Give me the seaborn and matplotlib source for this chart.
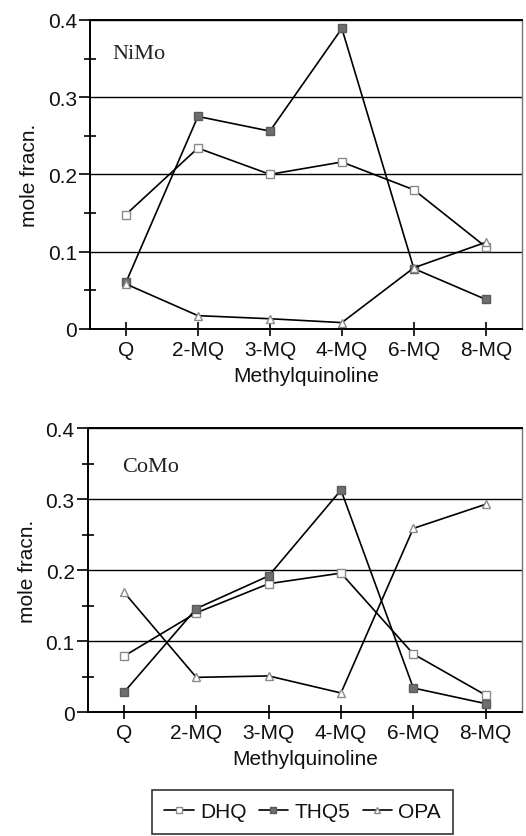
import numpy as np
import pandas as pd
import seaborn as sns
import matplotlib.pyplot as plt
from matplotlib.ticker import MultipleLocator

categories = ["Q", "2-MQ", "3-MQ", "4-MQ", "6-MQ", "8-MQ"]

# NiMo catalyst
nimo_dhq = [0.148, 0.234, 0.200, 0.216, 0.180, 0.106]
nimo_thq5 = [0.060, 0.275, 0.256, 0.389, 0.078, 0.038]
nimo_opa = [0.058, 0.017, 0.013, 0.008, 0.079, 0.112]

# CoMo catalyst
como_dhq = [0.079, 0.140, 0.181, 0.196, 0.082, 0.024]
como_thq5 = [0.028, 0.146, 0.192, 0.313, 0.034, 0.012]
como_opa = [0.169, 0.049, 0.051, 0.027, 0.259, 0.293]

sns.set_theme(style="white")
plt.rcParams["font.family"] = ["Liberation Sans", "DejaVu Sans"]
plt.rcParams["text.color"] = "#111111"
plt.rcParams["axes.labelcolor"] = "#111111"
plt.rcParams["xtick.color"] = "#111111"
plt.rcParams["ytick.color"] = "#111111"

FS = 15

fig = plt.figure(figsize=(5.26, 8.37), dpi=100)
ax_top = fig.add_axes([0.171, 0.606, 0.821, 0.369])
ax_bot = fig.add_axes([0.167, 0.148, 0.825, 0.339])

styles = {
    "DHQ": dict(marker="s", markerfacecolor="white", markeredgecolor="#8a8a8a"),
    "THQ5": dict(marker="s", markerfacecolor="#6e6e6e", markeredgecolor="#5a5a5a"),
    "OPA": dict(marker="^", markerfacecolor="white", markeredgecolor="#8a8a8a"),
}

x = np.arange(len(categories))

def draw_panel(ax, series, name, name_pos):
    for label, vals in series.items():
        df = pd.DataFrame({"x": x, "y": vals})
        sns.lineplot(data=df, x="x", y="y", ax=ax, color="black", lw=1.2,
                     markersize=6, markeredgewidth=1.0, label=label,
                     legend=False, **styles[label])
    ax.set_xlim(-0.5, 5.5)
    ax.set_ylim(0, 0.4)
    ax.set_xticks(x)
    ax.set_xticklabels(categories, fontsize=FS)
    ax.set_yticks([0, 0.1, 0.2, 0.3, 0.4])
    ax.set_yticklabels(["0", "0.1", "0.2", "0.3", "0.4"], fontsize=FS)
    ax.yaxis.set_minor_locator(MultipleLocator(0.05))
    ax.tick_params(axis="y", which="major", direction="out", length=8,
                   width=1.2, color="black", pad=1.5, left=True)
    ax.tick_params(axis="y", which="minor", direction="inout", length=9,
                   width=1.2, color="black", left=True)
    ax.tick_params(axis="x", which="major", direction="inout", length=10,
                   width=1.2, color="black", pad=3, bottom=True)
    ax.grid(axis="y", color="black", lw=1.0)
    ax.grid(axis="x", visible=False)
    for side in ["left", "bottom", "top"]:
        ax.spines[side].set_color("black")
        ax.spines[side].set_linewidth(1.4)
    ax.spines["right"].set_color("#777777")
    ax.spines["right"].set_linewidth(1.0)
    ax.set_xlabel("Methylquinoline", fontsize=FS, labelpad=5)
    ax.set_ylabel("mole fracn.", fontsize=FS, labelpad=6)
    ax.text(name_pos[0], name_pos[1], name, transform=ax.transAxes, fontsize=16,
            va="center", family=["Liberation Serif", "DejaVu Serif"],
            color="#222222")

draw_panel(ax_top, {"DHQ": nimo_dhq, "THQ5": nimo_thq5, "OPA": nimo_opa},
           "NiMo", (0.051, 0.89))
draw_panel(ax_bot, {"DHQ": como_dhq, "THQ5": como_thq5, "OPA": como_opa},
           "CoMo", (0.08, 0.866))

handles, labels = ax_top.get_legend_handles_labels()
leg = fig.legend(handles, labels, loc="upper left",
                 bbox_to_anchor=(152 / 526, 1 - 791 / 837),
                 ncol=3, fontsize=FS, frameon=True, fancybox=False,
                 handlelength=1.4, handletextpad=0.3, columnspacing=0.6,
                 borderpad=0.6, borderaxespad=0, edgecolor="black")
leg.get_frame().set_linewidth(1.2)
for h in leg.legend_handles:
    h.set_markersize(5)

fig.savefig("out.png", dpi=100)
